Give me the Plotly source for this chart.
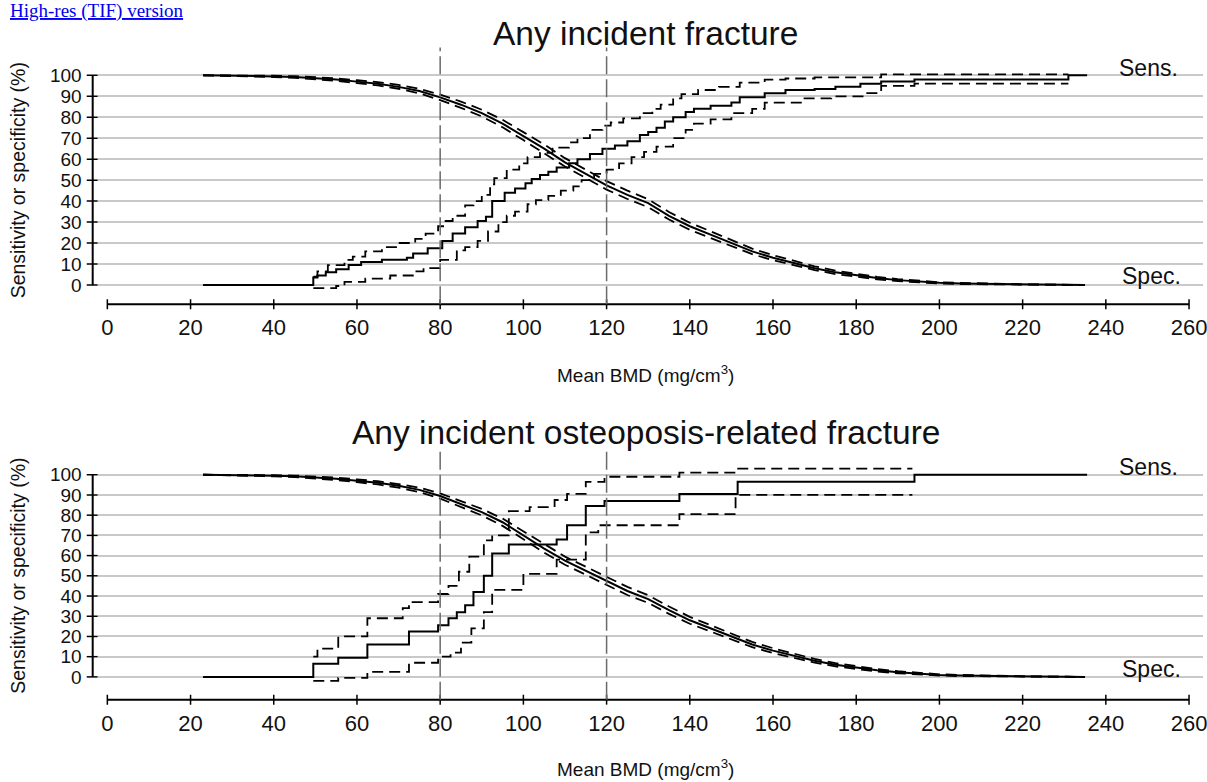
import plotly.graph_objects as go

W, H = 1207, 782

# ---------------- data ----------------
x_ticks = [0, 20, 40, 60, 80, 100, 120, 140, 160, 180, 200, 220, 240, 260]
y_ticks = [0, 10, 20, 30, 40, 50, 60, 70, 80, 90, 100]
thresholds = [80, 120]

# Specificity (both panels share the BMD grid)
spec_x = [23, 30, 35, 40, 45, 50, 55, 60, 65, 70, 75, 80, 85, 90, 95, 100, 105, 110, 115, 120,
          125, 130, 135, 140, 145, 150, 155, 160, 165, 170, 175, 180, 185, 190, 195, 200, 205,
          210, 215, 220, 225, 230, 235]
spec_top = [100, 99.9, 99.7, 99.5, 99.2, 98.7, 98.0, 97.0, 96.0, 94.5, 92.5, 89.5, 86.0, 82.0, 77.0,
            71.0, 65.0, 58.5, 53.0, 47.5, 43.0, 39.0, 33.0, 28.0, 24.0, 20.0, 16.0, 13.0, 10.5, 8.0,
            6.0, 4.5, 3.3, 2.3, 1.6, 1.0, 0.7, 0.5, 0.3, 0.2, 0.1, 0.05, 0]
spec_top_hi = [100, 100, 99.9, 99.8, 99.6, 99.2, 98.6, 97.7, 96.8, 95.4, 93.6, 90.8, 87.5, 83.6, 78.8,
               72.9, 67.0, 60.5, 55.0, 49.5, 45.0, 40.9, 34.8, 29.7, 25.6, 21.5, 17.3, 14.2, 11.5, 8.9,
               6.8, 5.2, 3.9, 2.8, 2.0, 1.3, 1.0, 0.7, 0.5, 0.3, 0.2, 0.1, 0]
spec_top_lo = [100, 99.8, 99.5, 99.2, 98.8, 98.2, 97.4, 96.3, 95.2, 93.6, 91.4, 88.2, 84.5, 80.4, 75.2,
               69.1, 63.0, 56.5, 51.0, 45.5, 41.0, 37.1, 31.2, 26.3, 22.4, 18.5, 14.7, 11.8, 9.5, 7.1,
               5.2, 3.8, 2.7, 1.8, 1.2, 0.7, 0.4, 0.3, 0.1, 0.1, 0, 0, 0]

spec_bot = [100, 99.9, 99.7, 99.5, 99.2, 98.7, 98.0, 97.0, 96.0, 94.5, 92.5, 89.5, 85.5, 81.5, 76.5,
            70.0, 63.5, 57.5, 52.5, 47.5, 42.5, 38.5, 33.0, 28.0, 24.0, 20.0, 16.0, 13.0, 10.5, 8.0,
            6.0, 4.5, 3.3, 2.3, 1.6, 1.0, 0.7, 0.5, 0.3, 0.2, 0.1, 0.05, 0]
spec_bot_hi = [100, 100, 99.9, 99.8, 99.6, 99.2, 98.6, 97.7, 96.8, 95.4, 93.6, 90.8, 87.0, 83.1, 78.3,
               71.9, 65.5, 59.5, 54.5, 49.5, 44.5, 40.4, 34.8, 29.7, 25.6, 21.5, 17.3, 14.2, 11.5, 8.9,
               6.8, 5.2, 3.9, 2.8, 2.0, 1.3, 1.0, 0.7, 0.5, 0.3, 0.2, 0.1, 0]
spec_bot_lo = [100, 99.8, 99.5, 99.2, 98.8, 98.2, 97.4, 96.3, 95.2, 93.6, 91.4, 88.2, 84.0, 79.9, 74.7,
               68.1, 61.5, 55.5, 50.5, 45.5, 40.5, 36.6, 31.2, 26.3, 22.4, 18.5, 14.7, 11.8, 9.5, 7.1,
               5.2, 3.8, 2.7, 1.8, 1.2, 0.7, 0.4, 0.3, 0.1, 0.1, 0, 0, 0]

# Sensitivity, top panel (any incident fracture)
sens_top_x = [23, 49.5, 50.5, 52.5, 55, 58, 61, 66, 72, 73.5, 77, 80.5, 83, 86, 89, 91, 92.5, 95.5, 98,
              100.5, 102, 104, 106, 108, 111, 113, 116, 119, 122, 125, 128, 130, 132, 134, 136, 139,
              141, 145, 150, 152, 158, 163, 170, 175, 181, 186, 194, 231, 235.5]
sens_top = [0, 3.5, 4.5, 6, 7.5, 9.5, 11, 12, 13, 15, 17.5, 21, 24.5, 27.5, 30.5, 32.5, 40, 44, 46,
            48.5, 50.5, 52.5, 54, 56, 58, 60, 62.5, 65, 66.5, 68.5, 71.5, 73, 75, 78, 80, 82.5,
            84, 85.5, 87, 89.5, 91.5, 93, 93.5, 94.5, 96, 97, 98, 100, 100]
sens_top_hi_x = [49.5, 50.5, 53, 57, 59, 62, 66, 70, 74, 76.5, 79.5, 81, 83, 86, 88, 90, 92, 93, 96, 99,
                 101, 104, 107, 111, 113, 116, 119, 121, 124, 128, 131, 133, 136, 138, 142, 147, 152,
                 158, 163, 170, 186, 231]
sens_top_hi = [4, 6.5, 9.5, 12, 13.5, 16, 18, 20, 22, 24.5, 28, 30.5, 33, 38, 40, 43, 48, 51, 55, 58,
               61, 63, 65.5, 68, 70, 74, 76, 77.5, 79.5, 82, 84, 86, 89, 91, 93, 94.5, 96.5,
               98, 98.5, 99, 100.5, 100.5]
sens_top_lo_x = [49.5, 55, 57, 62, 68, 74, 76, 80, 84, 86, 89, 91.5, 94, 96, 98, 101, 103, 106, 109, 112,
                 114, 117, 120, 123, 126, 129, 132, 136, 139, 141, 145, 150, 155, 158, 167, 174, 182,
                 186, 194, 231]
sens_top_lo = [-1.5, -0.5, 1.5, 3, 4.5, 6.5, 8, 12, 16.5, 18, 21, 25.5, 30, 33, 35, 38.5, 40.5, 42.5, 45, 47,
               50, 53, 55, 58, 61, 63.5, 66, 70, 74, 77, 79, 82, 84, 87, 89, 90, 91.5,
               95, 96, 96]

# Sensitivity, bottom panel (osteoporosis-related fracture)
sens_bot_x = [23, 49.5, 55.5, 62.5, 72.5, 79.5, 82, 84, 86, 88, 90.5, 92.5, 96.5, 108, 110.5, 115, 119.5,
              137.5, 151.5, 194, 235.5]
sens_bot = [0, 6.5, 9.5, 16, 22.5, 25.5, 29, 32, 35.5, 42, 50, 61, 65.5, 68, 75, 84.5, 87,
            90.5, 96.5, 100, 100]
sens_bot_hi_x = [49.5, 50.5, 55.5, 62.5, 71, 72.5, 79.5, 82, 84.5, 87, 90.5, 92.5, 96.5, 101.5, 107.5, 110.5,
                 115, 119.5, 137.5, 151, 193.5]
sens_bot_hi = [10, 14, 20, 29, 34, 37, 41, 45, 52, 59.5, 67.5, 70, 82, 84, 87.5, 90.5,
               96.5, 99, 101, 103, 103]
sens_bot_lo_x = [49.5, 55.5, 62.5, 72.5, 79.5, 82.5, 85, 87.5, 90.5, 92.5, 100, 108, 115, 118, 137.5, 151, 193.5]
sens_bot_lo = [-2, -0.5, 2.5, 7, 10, 12, 17, 24, 32, 43, 51, 58, 71.5, 75, 80.5, 90, 90]

titles = ["Any incident fracture", "Any incident osteoposis-related fracture"]
y_title = "Sensitivity or specificity (%)"
x_title = "Mean BMD (mg/cm<sup>3</sup>)"

# --------------- layout helpers (pixel -> paper) ---------------
def fx(px):
    return px / W


def fy(py):
    return 1 - py / H


FONT = "Liberation Sans, Arial, Helvetica, sans-serif"
SOLID = dict(color="black", width=2)
DASH = dict(color="black", width=1.8, dash="11px,6px")

fig = go.Figure()


def add_lines(xs, ys, line, xa, ya, shape):
    assert len(xs) == len(ys)
    fig.add_trace(go.Scatter(x=xs, y=ys, mode="lines", line=dict(**line, shape=shape),
                             xaxis=xa, yaxis=ya, showlegend=False, hoverinfo="skip"))


panels = [
    dict(xa="x", ya="y", spec=spec_top, spec_hi=spec_top_hi, spec_lo=spec_top_lo,
         sx=sens_top_x, s=sens_top, shx=sens_top_hi_x, sh=sens_top_hi, slx=sens_top_lo_x, sl=sens_top_lo),
    dict(xa="x2", ya="y2", spec=spec_bot, spec_hi=spec_bot_hi, spec_lo=spec_bot_lo,
         sx=sens_bot_x, s=sens_bot, shx=sens_bot_hi_x, sh=sens_bot_hi, slx=sens_bot_lo_x, sl=sens_bot_lo),
]
for p in panels:
    add_lines(spec_x, p["spec_hi"], DASH, p["xa"], p["ya"], "linear")
    add_lines(spec_x, p["spec_lo"], DASH, p["xa"], p["ya"], "linear")
    add_lines(spec_x, p["spec"], SOLID, p["xa"], p["ya"], "linear")
    add_lines(p["shx"], p["sh"], DASH, p["xa"], p["ya"], "hv")
    add_lines(p["slx"], p["sl"], DASH, p["xa"], p["ya"], "hv")
    add_lines(p["sx"], p["s"], SOLID, p["xa"], p["ya"], "hv")

# pixel geometry of the two panels
geo = [
    dict(y100=74.0, y0=285.5, xaxis_py=305.0, title_py=32.0, xt_py=375.0, ytitle_py=180.0,
         dash_top=46.0, sens_py=67.0, spec_py=276.0),
    dict(y100=477.0, y0=681.0, xaxis_py=704.0, title_py=434.0, xt_py=773.0, ytitle_py=579.0,
         dash_top=453.0, sens_py=469.0, spec_py=673.0),
]
X0_PX, X260_PX = 107.7, 1193.0
ppu_x = (X260_PX - X0_PX) / 260.0
x_lo = (98 - X0_PX) / ppu_x
x_hi = (W - X0_PX) / ppu_x
Y_LO, Y_HI = -3, 104

layout_axes = {}
shapes = []
annotations = []
for i, g in enumerate(geo):
    sfx = "" if i == 0 else str(i + 1)
    yref = "y" + sfx
    xref = "x" + sfx
    ppu_y = (g["y0"] - g["y100"]) / 100.0
    top_py = g["y100"] - (Y_HI - 100) * ppu_y
    bot_py = g["y0"] - Y_LO * ppu_y
    layout_axes["xaxis" + sfx] = dict(
        domain=[fx(98), 1.0], range=[x_lo, x_hi], anchor="free", position=fy(g["xaxis_py"]),
        tickmode="array", tickvals=x_ticks, ticktext=[str(v) for v in x_ticks],
        showgrid=False, zeroline=False, showline=False, ticks="",
        ticklabeloverflow="allow",
        tickfont=dict(family=FONT, size=22, color="#111"), ticklabelstandoff=8, fixedrange=True)
    layout_axes["yaxis" + sfx] = dict(
        domain=[fy(bot_py), fy(top_py)], range=[Y_LO, Y_HI], anchor="free", position=fx(93),
        tickmode="array", tickvals=y_ticks, showgrid=True, gridcolor="#c9c9c9", gridwidth=1.5,
        zeroline=False, showline=False, ticks="",
        tickfont=dict(family=FONT, size=19, color="#111"), ticklabelstandoff=11, fixedrange=True)

    # y axis line with crossing ticks
    shapes.append(dict(type="line", xref="paper", yref=yref, x0=fx(93), x1=fx(93), y0=0, y1=100,
                       line=dict(color="black", width=2)))
    for v in y_ticks:
        shapes.append(dict(type="line", xref="paper", yref=yref, x0=fx(87), x1=fx(98), y0=v, y1=v,
                           line=dict(color="black", width=1.5)))
    # x axis line with crossing ticks
    shapes.append(dict(type="line", xref=xref, yref="paper", x0=x_ticks[0], x1=x_ticks[-1],
                       y0=fy(g["xaxis_py"]), y1=fy(g["xaxis_py"]), line=dict(color="black", width=2)))
    for v in x_ticks:
        shapes.append(dict(type="line", xref=xref, yref="paper", x0=v, x1=v,
                           y0=fy(g["xaxis_py"] - 5), y1=fy(g["xaxis_py"] + 5),
                           line=dict(color="black", width=1.5)))
    # threshold reference lines
    for t in thresholds:
        shapes.append(dict(type="line", xref=xref, yref="paper", x0=t, x1=t,
                           y0=fy(g["xaxis_py"]), y1=fy(g["dash_top"]),
                           line=dict(color="#6a6a6a", width=1.5, dash="18px,5px")))

    annotations += [
        dict(text=titles[i], x=fx(648), y=fy(g["title_py"]), xref="paper", yref="paper",
             showarrow=False, xanchor="center", yanchor="middle",
             font=dict(family=FONT, size=33.5, color="#111")),
        dict(text=x_title, x=fx(648), y=fy(g["xt_py"]), xref="paper", yref="paper",
             showarrow=False, xanchor="center", yanchor="middle",
             font=dict(family=FONT, size=19, color="#111")),
        dict(text=y_title, x=fx(18), y=fy(g["ytitle_py"]), xref="paper", yref="paper",
             showarrow=False, xanchor="center", yanchor="middle", textangle=-90,
             font=dict(family=FONT, size=19.5, color="#111")),
        dict(text="Sens.", x=fx(1152), y=fy(g["sens_py"]), xref="paper", yref="paper",
             showarrow=False, xanchor="center", yanchor="middle",
             font=dict(family=FONT, size=23, color="#111")),
        dict(text="Spec.", x=fx(1155), y=fy(g["spec_py"]), xref="paper", yref="paper",
             showarrow=False, xanchor="center", yanchor="middle",
             font=dict(family=FONT, size=23, color="#111")),
    ]

annotations.append(dict(
    text="<span style='text-decoration:underline'>High-res (TIF) version</span>",
    x=fx(8), y=fy(9), xref="paper", yref="paper", showarrow=False,
    xanchor="left", yanchor="middle",
    font=dict(family="Liberation Serif, Times New Roman, serif", size=19, color="#0000EE")))

fig.update_layout(
    width=W, height=H, margin=dict(l=0, r=0, t=0, b=0),
    paper_bgcolor="white", plot_bgcolor="rgba(0,0,0,0)",
    showlegend=False, shapes=shapes, annotations=annotations,
    **layout_axes,
)

fig.write_html("out.html", config={"displayModeBar": False})
